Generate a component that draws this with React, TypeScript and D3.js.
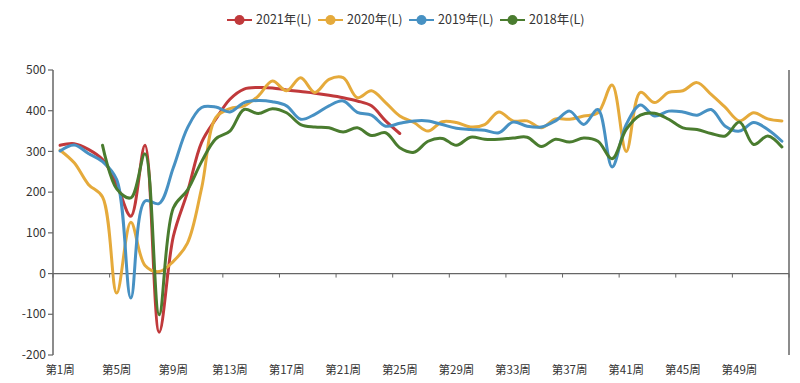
import React from "react";
import * as d3 from "d3";

const weeks: string[] = Array.from({ length: 52 }, (_, i) => `第${i + 1}周`);
const yTicks: number[] = [-200, -100, 0, 100, 200, 300, 400, 500];
const seriesNames: string[] = ["2021年(L)", "2020年(L)", "2019年(L)", "2018年(L)"];
const seriesColors: string[] = ["#c0393b", "#e5aa3b", "#4791c3", "#4a7c2f"];

const s2021: (number | null)[] = [315, 319, 305, 280, 219, 141, 315, -144, 91, 200, 322, 379, 428, 453, 457, 456, 451, 447, 443, 438, 432, 424, 412, 375, 344];
const s2020: (number | null)[] = [303, 272, 219, 188, -48, 126, 20, 5, 30, 75, 210, 383, 405, 412, 436, 473, 449, 481, 445, 477, 481, 432, 449, 420, 387, 371, 350, 373, 371, 360, 366, 397, 375, 375, 358, 380, 379, 387, 395, 463, 300, 445, 420, 445, 449, 469, 440, 408, 375, 395, 380, 375];
const s2019: (number | null)[] = [301, 316, 295, 275, 231, -60, 178, 172, 260, 358, 408, 409, 397, 420, 425, 422, 412, 379, 391, 412, 424, 396, 389, 362, 369, 375, 375, 366, 357, 354, 352, 346, 372, 362, 360, 375, 399, 366, 403, 262, 366, 414, 387, 399, 397, 389, 403, 362, 350, 371, 354, 325];
const s2018: (number | null)[] = [null, null, null, 315, 208, 186, 294, -101, 161, 205, 275, 331, 350, 403, 393, 405, 395, 366, 360, 358, 348, 358, 339, 346, 309, 298, 325, 332, 315, 335, 330, 330, 333, 335, 312, 330, 323, 333, 325, 282, 354, 389, 394, 379, 358, 354, 344, 338, 372, 317, 338, 311];

const allSeries = [s2021, s2020, s2019, s2018];

const W = 800;
const H = 383;
const left = 53;
const right = 789;
const top = 70;
const bottom = 355;
const font = "'Noto Sans CJK SC', 'Noto Sans', sans-serif";

export default function App() {
  const x = d3.scaleBand<string>().domain(weeks).range([left, right]).padding(0);
  const bw = x.bandwidth();
  const cx = (i: number) => (x(weeks[i]) as number) + bw / 2;
  const y = d3.scaleLinear().domain([-200, 500]).range([bottom, top]);

  const line = d3
    .line<number | null>()
    .defined((d) => d !== null)
    .x((_, i) => cx(i))
    .y((d) => y(d as number))
    .curve(d3.curveCatmullRom.alpha(0.5));

  const boundaries: number[] = [];
  for (let k = 0; k <= 52; k += 4) boundaries.push(left + k * bw);

  const axisColor = "#666";
  const textColor = "#333";

  return (
    <svg width={W} height={H} style={{ position: "absolute", left: 0, top: 0, background: "#fff" }} fontFamily={font}>
      {/* legend */}
      {seriesNames.map((n, i) => {
        const x0 = 227 + i * 91;
        return (
          <g key={n}>
            <line x1={x0} x2={x0 + 25} y1={20} y2={20} stroke={seriesColors[i]} strokeWidth={2} />
            <circle cx={x0 + 12.5} cy={20} r={5} fill={seriesColors[i]} />
            <text x={x0 + 29} y={20} dy="0.35em" fontSize={12.5} fill={textColor}>
              {n}
            </text>
          </g>
        );
      })}

      {/* left axis */}
      <line x1={left} x2={left} y1={top} y2={bottom} stroke={axisColor} strokeWidth={1.5} />
      {yTicks.map((t) => (
        <g key={t}>
          <line x1={left - 5} x2={left} y1={y(t)} y2={y(t)} stroke={axisColor} strokeWidth={1.2} />
          <text x={left - 7} y={y(t)} dy="0.35em" textAnchor="end" fontSize={12} fill={textColor}>
            {t}
          </text>
        </g>
      ))}
      {/* right axis */}
      <line x1={right} x2={right} y1={top} y2={bottom} stroke={axisColor} strokeWidth={1.5} />

      {/* zero line with ticks */}
      <line x1={left} x2={right} y1={y(0)} y2={y(0)} stroke={axisColor} strokeWidth={1.2} />
      {boundaries.map((b, i) => (
        <line key={i} x1={b} x2={b} y1={y(0)} y2={y(0) + 4} stroke={axisColor} strokeWidth={1} />
      ))}

      {/* x labels */}
      {weeks.map((w, i) =>
        i % 4 === 0 ? (
          <text key={w} x={cx(i)} y={370} dy="0.35em" textAnchor="middle" fontSize={11.5} fill={textColor}>
            {w}
          </text>
        ) : null
      )}

      {/* series */}
      {allSeries.map((s, i) => (
        <path key={i} d={line(s) || ""} fill="none" stroke={seriesColors[i]} strokeWidth={3} strokeLinejoin="round" strokeLinecap="round" />
      ))}
    </svg>
  );
}
